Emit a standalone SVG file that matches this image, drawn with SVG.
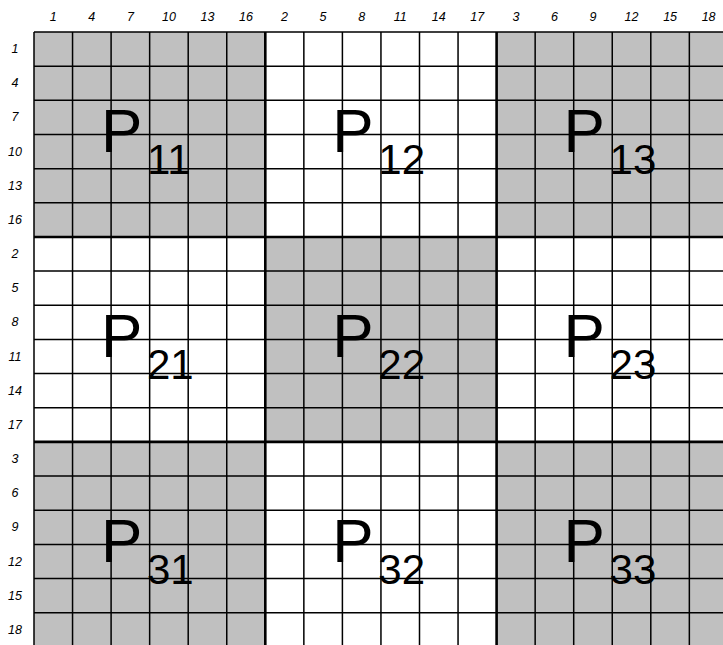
<svg xmlns="http://www.w3.org/2000/svg" width="723" height="645" viewBox="0 0 723 645">
<style>
.bg{fill:#ffffff}
.gray{fill:#c0c0c0}
.white{fill:#ffffff}
.grid{stroke:#000;stroke-width:1.5;fill:none}
.thick{stroke:#000;stroke-width:2.6;fill:none}
.lbl{font-family:"Liberation Sans",Arial,sans-serif;font-style:italic;font-size:12.5px;fill:#000;text-anchor:middle}
.P{font-family:"Liberation Sans",Arial,sans-serif;font-size:62px;fill:#000}
.sub{font-family:"Liberation Sans",Arial,sans-serif;font-size:42px;fill:#000}
</style>
<rect class="bg" x="0" y="0" width="723" height="645"/>
<g id="P11"><rect class="gray" x="34" y="32" width="231.3" height="204.96"/><text class="P" x="101" y="152.3">P</text><text class="sub" x="147" y="174">11</text></g>
<g id="P12"><rect class="white" x="265.3" y="32" width="231.3" height="204.96"/><text class="P" x="332.3" y="152.3">P</text><text class="sub" x="378.3" y="174">12</text></g>
<g id="P13"><rect class="gray" x="496.6" y="32" width="231.3" height="204.96"/><text class="P" x="563.6" y="152.3">P</text><text class="sub" x="609.6" y="174">13</text></g>
<g id="P21"><rect class="white" x="34" y="236.96" width="231.3" height="204.96"/><text class="P" x="101" y="357.26">P</text><text class="sub" x="147" y="378.96">21</text></g>
<g id="P22"><rect class="gray" x="265.3" y="236.96" width="231.3" height="204.96"/><text class="P" x="332.3" y="357.26">P</text><text class="sub" x="378.3" y="378.96">22</text></g>
<g id="P23"><rect class="white" x="496.6" y="236.96" width="231.3" height="204.96"/><text class="P" x="563.6" y="357.26">P</text><text class="sub" x="609.6" y="378.96">23</text></g>
<g id="P31"><rect class="gray" x="34" y="441.92" width="231.3" height="204.96"/><text class="P" x="101" y="562.22">P</text><text class="sub" x="147" y="583.92">31</text></g>
<g id="P32"><rect class="white" x="265.3" y="441.92" width="231.3" height="204.96"/><text class="P" x="332.3" y="562.22">P</text><text class="sub" x="378.3" y="583.92">32</text></g>
<g id="P33"><rect class="gray" x="496.6" y="441.92" width="231.3" height="204.96"/><text class="P" x="563.6" y="562.22">P</text><text class="sub" x="609.6" y="583.92">33</text></g>
<g id="connectors">
<path class="grid" d="M34,32V647 M72.55,32V647 M111.1,32V647 M149.65,32V647 M188.2,32V647 M226.75,32V647 M303.85,32V647 M342.4,32V647 M380.95,32V647 M419.5,32V647 M458.05,32V647 M535.15,32V647 M573.7,32V647 M612.25,32V647 M650.8,32V647 M689.35,32V647
M34,32H728 M34,66.16H728 M34,100.32H728 M34,134.48H728 M34,168.64H728 M34,202.8H728 M34,271.12H728 M34,305.28H728 M34,339.44H728 M34,373.6H728 M34,407.76H728 M34,476.08H728 M34,510.24H728 M34,544.4H728 M34,578.56H728 M34,612.72H728"/>
<path class="thick" d="M265.3,32V647 M496.6,32V647 M34,236.96H728 M34,441.92H728"/>
</g>
<g id="col-labels">
<text class="lbl" x="53.3" y="21">1</text><text class="lbl" x="91.8" y="21">4</text><text class="lbl" x="130.4" y="21">7</text><text class="lbl" x="168.9" y="21">10</text><text class="lbl" x="207.5" y="21">13</text><text class="lbl" x="246" y="21">16</text>
<text class="lbl" x="284.6" y="21">2</text><text class="lbl" x="323.1" y="21">5</text><text class="lbl" x="361.7" y="21">8</text><text class="lbl" x="400.2" y="21">11</text><text class="lbl" x="438.8" y="21">14</text><text class="lbl" x="477.3" y="21">17</text>
<text class="lbl" x="515.9" y="21">3</text><text class="lbl" x="554.4" y="21">6</text><text class="lbl" x="593" y="21">9</text><text class="lbl" x="631.5" y="21">12</text><text class="lbl" x="670.1" y="21">15</text><text class="lbl" x="708.6" y="21">18</text>
</g>
<g id="row-labels">
<text class="lbl" x="15" y="53.1">1</text><text class="lbl" x="15" y="87.2">4</text><text class="lbl" x="15" y="121.4">7</text><text class="lbl" x="15" y="155.6">10</text><text class="lbl" x="15" y="189.7">13</text><text class="lbl" x="15" y="223.9">16</text>
<text class="lbl" x="15" y="258">2</text><text class="lbl" x="15" y="292.2">5</text><text class="lbl" x="15" y="326.4">8</text><text class="lbl" x="15" y="360.5">11</text><text class="lbl" x="15" y="394.7">14</text><text class="lbl" x="15" y="428.8">17</text>
<text class="lbl" x="15" y="463">3</text><text class="lbl" x="15" y="497.2">6</text><text class="lbl" x="15" y="531.3">9</text><text class="lbl" x="15" y="565.5">12</text><text class="lbl" x="15" y="599.6">15</text><text class="lbl" x="15" y="633.8">18</text>
</g>
</svg>
